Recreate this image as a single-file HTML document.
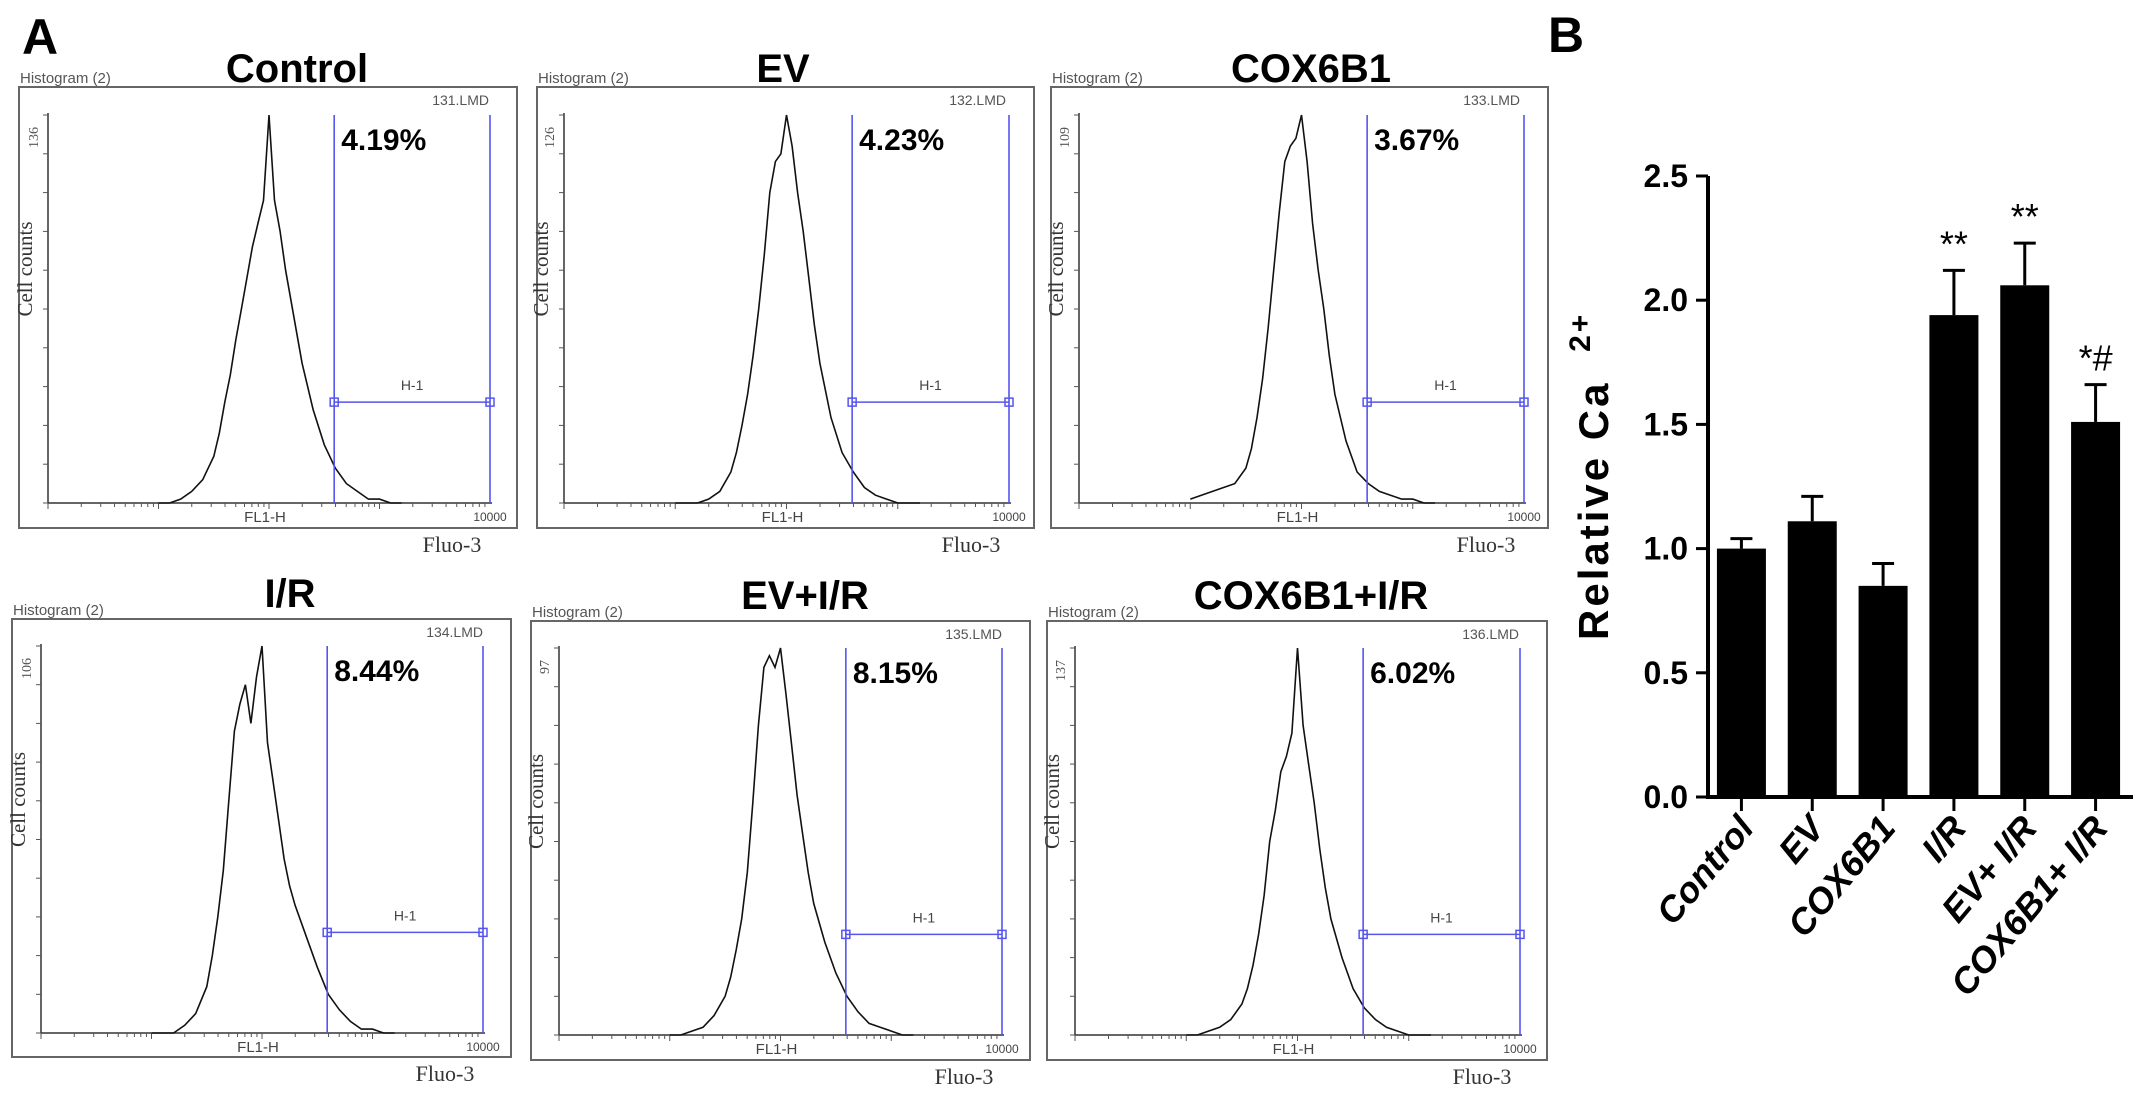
<!DOCTYPE html>
<html><head><meta charset="utf-8">
<style>
html,body{margin:0;padding:0;background:#fff;}
svg{display:block;}
</style></head>
<body>
<svg id="fig" width="2150" height="1096" viewBox="0 0 2150 1096" xmlns="http://www.w3.org/2000/svg" font-family="Liberation Sans, sans-serif">
<text x="22" y="54" font-size="50" font-weight="bold">A</text>
<text x="1548" y="52" font-size="50" font-weight="bold">B</text>
<g id="hists"></g>
<g id="bars"></g>
</svg>
<script>
// ---------- Histogram data (log10 fluorescence vs relative count) ----------
const histLogX = [1.0,1.1,1.2,1.3,1.4,1.5,1.55,1.6,1.65,1.7,1.75,1.8,1.85,1.9,1.95,2.0,2.05,2.1,2.15,2.2,2.25,2.3,2.4,2.5,2.6,2.7,2.8,2.9,3.0,3.1,3.2];
const histControl = [0,0,0.01,0.03,0.06,0.12,0.18,0.26,0.33,0.42,0.5,0.58,0.66,0.72,0.78,1.0,0.78,0.7,0.6,0.52,0.44,0.36,0.24,0.15,0.09,0.05,0.03,0.01,0.01,0,0];
const histEV = [0,0,0,0.01,0.03,0.08,0.13,0.2,0.28,0.38,0.5,0.64,0.8,0.88,0.9,1.0,0.92,0.8,0.7,0.58,0.46,0.36,0.22,0.13,0.08,0.04,0.02,0.01,0,0,0];
const histCOX = [0.01,0.02,0.03,0.04,0.05,0.09,0.14,0.22,0.32,0.45,0.6,0.75,0.88,0.92,0.94,1.0,0.88,0.72,0.6,0.5,0.38,0.28,0.16,0.08,0.05,0.03,0.02,0.01,0.01,0,0];
const histIR = [0,0,0,0.02,0.05,0.12,0.2,0.3,0.42,0.6,0.78,0.85,0.9,0.8,0.92,1.0,0.75,0.65,0.55,0.45,0.38,0.33,0.25,0.17,0.1,0.06,0.03,0.01,0.01,0,0];
const histEVIR = [0,0,0.01,0.02,0.05,0.1,0.15,0.22,0.3,0.42,0.6,0.8,0.95,0.98,0.95,1.0,0.88,0.75,0.62,0.52,0.42,0.34,0.24,0.16,0.1,0.06,0.03,0.02,0.01,0,0];
const histCOXIR = [0,0,0.01,0.02,0.04,0.08,0.12,0.18,0.26,0.36,0.5,0.58,0.68,0.72,0.78,1.0,0.8,0.7,0.6,0.48,0.38,0.3,0.2,0.12,0.07,0.04,0.02,0.01,0,0,0];
const histTitles = ["Control","EV","COX6B1","I/R","EV+I/R","COX6B1+I/R"];
const histPercents = ["4.19%","4.23%","3.67%","8.44%","8.15%","6.02%"];
const histFiles = ["131.LMD","132.LMD","133.LMD","134.LMD","135.LMD","136.LMD"];
const histMaxCounts = ["136","126","109","106","97","137"];
const gateLogStart = 2.59;
const gateLogEnd = 4.0;
const gateLevel = 0.26;
const histSeries = [histControl,histEV,histCOX,histIR,histEVIR,histCOXIR];

// layout (not data)
const layouts = [
 {bx:19,by:87,bw:498,bh:441,ax:48,top:115,base:503,xr:490,ty:68,tx:297},
 {bx:537,by:87,bw:497,bh:441,ax:564,top:115,base:503,xr:1009,ty:68,tx:783},
 {bx:1051,by:87,bw:497,bh:441,ax:1079,top:115,base:503,xr:1524,ty:68,tx:1311},
 {bx:12,by:619,bw:499,bh:438,ax:41,top:646,base:1033,xr:483,ty:593,tx:290},
 {bx:531,by:621,bw:499,bh:439,ax:559,top:648,base:1035,xr:1002,ty:595,tx:805},
 {bx:1047,by:621,bw:500,bh:439,ax:1075,top:648,base:1035,xr:1520,ty:595,tx:1311}
];
const NS="http://www.w3.org/2000/svg";
const SERIF="Liberation Serif, serif";
function mk(tag,attrs,parent,txt){const e=document.createElementNS(NS,tag);for(const k in attrs)e.setAttribute(k,attrs[k]);if(txt!==undefined)e.textContent=txt;parent.appendChild(e);return e;}

const hg=document.getElementById('hists');
layouts.forEach((L,i)=>{
  const g=mk('g',{},hg);
  
  
  const xS=v=>L.ax+(v/4)*(L.xr-L.ax);
  const yS=v=>L.base-v*(L.base-L.top);
  const title=mk('text',{x:L.tx,y:L.ty+14,'font-size':40,'font-weight':'bold','text-anchor':'middle'},g,histTitles[i]);
  
  
  const box=mk('rect',{x:L.bx,y:L.by,width:L.bw,height:L.bh,fill:'none',stroke:'#666','stroke-width':2},g);
  
  
  const ht=mk('text',{x:L.bx+1,y:L.by-4,'font-size':15,fill:'#555'},g,'Histogram (2)');
  
  
  const lmd=mk('text',{x:L.bx+L.bw-28,y:L.by+18,'font-size':14,fill:'#555','text-anchor':'end'},g,histFiles[i]);
  
  
  const yax=mk('line',{x1:L.ax,y1:L.top-2,x2:L.ax,y2:L.base,stroke:'#333','stroke-width':1.5},g);
  
  
  const xax=mk('line',{x1:L.ax,y1:L.base,x2:L.xr+2,y2:L.base,stroke:'#333','stroke-width':1.5},g);
  
  
  for(let k=0;k<=10;k++){const yy=L.top+(L.base-L.top)*k/10;
    const t=mk('line',{x1:L.ax-5,y1:yy,x2:L.ax,y2:yy,stroke:'#555','stroke-width':1},g);
    }
  for(let d=0;d<4;d++){for(let m=1;m<10;m++){const xx=xS(d+Math.log10(m));
    const t=mk('line',{x1:xx,y1:L.base,x2:xx,y2:L.base+(m===1?6:4),stroke:'#555','stroke-width':1},g);
    }}
  const ym=mk('text',{transform:`translate(${L.ax-10},${L.top+12}) rotate(-90)`,'font-size':14,fill:'#555','font-family':SERIF,'text-anchor':'end'},g,histMaxCounts[i]);
  
  const yc=mk('text',{transform:`translate(${L.ax-16},${(L.top+L.base)/2-40}) rotate(-90)`,'font-size':21,fill:'#333','font-family':SERIF,'text-anchor':'middle'},g,'Cell counts');
  
  const fl=mk('text',{x:xS(2)-4,y:L.base+19,'font-size':15,fill:'#444','text-anchor':'middle'},g,'FL1-H');
  
  const tk=mk('text',{x:L.xr,y:L.base+18,'font-size':12,fill:'#444','text-anchor':'middle'},g,'10000');
  
  const fx=mk('text',{x:L.xr-38,y:L.by+L.bh+24,'font-size':22,fill:'#333','font-family':SERIF,'text-anchor':'middle'},g,'Fluo-3');
  
  const pts=histLogX.map((v,j)=>xS(v).toFixed(1)+','+yS(histSeries[i][j]).toFixed(1)).join(' ');
  const pl=mk('polyline',{points:pts,fill:'none',stroke:'#111','stroke-width':1.6},g);
  
  const gx1=xS(gateLogStart),gx2=xS(gateLogEnd),gy=yS(gateLevel);
  const gl1=mk('line',{x1:gx1,y1:L.top,x2:gx1,y2:L.base,stroke:'#5555ee','stroke-width':1.6},g);
  
  const gl2=mk('line',{x1:gx2,y1:L.top,x2:gx2,y2:L.base,stroke:'#5555ee','stroke-width':1.6},g);
  
  const gh=mk('line',{x1:gx1,y1:gy,x2:gx2,y2:gy,stroke:'#5555ee','stroke-width':1.6},g);
  
  [gx1,gx2].forEach(x=>{const h=mk('rect',{x:x-4,y:gy-4,width:8,height:8,fill:'none',stroke:'#5555ee','stroke-width':1.5},g);
    });
  const h1=mk('text',{x:(gx1+gx2)/2,y:gy-12,'font-size':14,fill:'#444','text-anchor':'middle'},g,'H-1');
  
  const pc=mk('text',{x:gx1+7,y:L.top+35,'font-size':30,'font-weight':'bold'},g,histPercents[i]);
  
});

// ---------- Bar chart ----------
const barCategories = ["Control","EV","COX6B1","I/R","EV+ I/R","COX6B1+ I/R"];
const barValues = [1.0,1.11,0.85,1.94,2.06,1.51];
const barErrors = [0.04,0.10,0.09,0.18,0.17,0.15];
const barSignif = ["","","","**","**","*#"];
const yTicks = [0,0.5,1.0,1.5,2.0,2.5];
const yTickLabels = ["0.0","0.5","1.0","1.5","2.0","2.5"];

const bg=document.getElementById('bars');
const X0=1708,XEND=2133,Y0=797,YTOP=176,YMAX=2.5;
const y=v=>Y0-(v/YMAX)*(Y0-YTOP);
const band=(XEND-X0)/barCategories.length;
const cx=i=>X0+band*(i+0.5)-2;
const bw=49;
barCategories.forEach((c,i)=>{
  const ex=mk('line',{x1:cx(i),y1:y(barValues[i]+barErrors[i]),x2:cx(i),y2:y(barValues[i]),stroke:'#000','stroke-width':3},bg);
  
  const ec=mk('line',{x1:cx(i)-11,y1:y(barValues[i]+barErrors[i]),x2:cx(i)+11,y2:y(barValues[i]+barErrors[i]),stroke:'#000','stroke-width':3},bg);
  
  const r=mk('rect',{x:cx(i)-bw/2,y:y(barValues[i]),width:bw,height:Y0-y(barValues[i]),fill:'#000'},bg);
  
  
  if(barSignif[i]){const s=mk('text',{x:cx(i),y:y(barValues[i]+barErrors[i])-14,'font-size':36,'text-anchor':'middle'},bg,barSignif[i]);
    }
  const t=mk('line',{x1:cx(i),y1:Y0,x2:cx(i),y2:Y0+14,stroke:'#000','stroke-width':3},bg);
  
  const l=mk('text',{transform:`translate(${cx(i)+14},${Y0+32}) rotate(-50)`,'font-size':36,'font-weight':'bold','font-style':'italic','text-anchor':'end'},bg,c);
  
});
const xa=mk('line',{x1:X0,y1:Y0,x2:XEND,y2:Y0,stroke:'#000','stroke-width':4},bg);

const ya=mk('line',{x1:X0,y1:YTOP,x2:X0,y2:Y0+2,stroke:'#000','stroke-width':4},bg);

yTicks.forEach((v,i)=>{
  const t=mk('line',{x1:X0-12,y1:y(v),x2:X0,y2:y(v),stroke:'#000','stroke-width':3},bg);
  
  const l=mk('text',{x:X0-20,y:y(v)+11,'font-size':32,'font-weight':'bold','text-anchor':'end'},bg,yTickLabels[i]);
  
});
const yt=mk('text',{transform:'translate(1608,640) rotate(-90)','font-size':42,'font-weight':'bold','letter-spacing':3},bg);

mk('tspan',{},yt,'Relative Ca ');
mk('tspan',{dx:14,dy:-18,'font-size':30},yt,'2+');
</script>
</body></html>
